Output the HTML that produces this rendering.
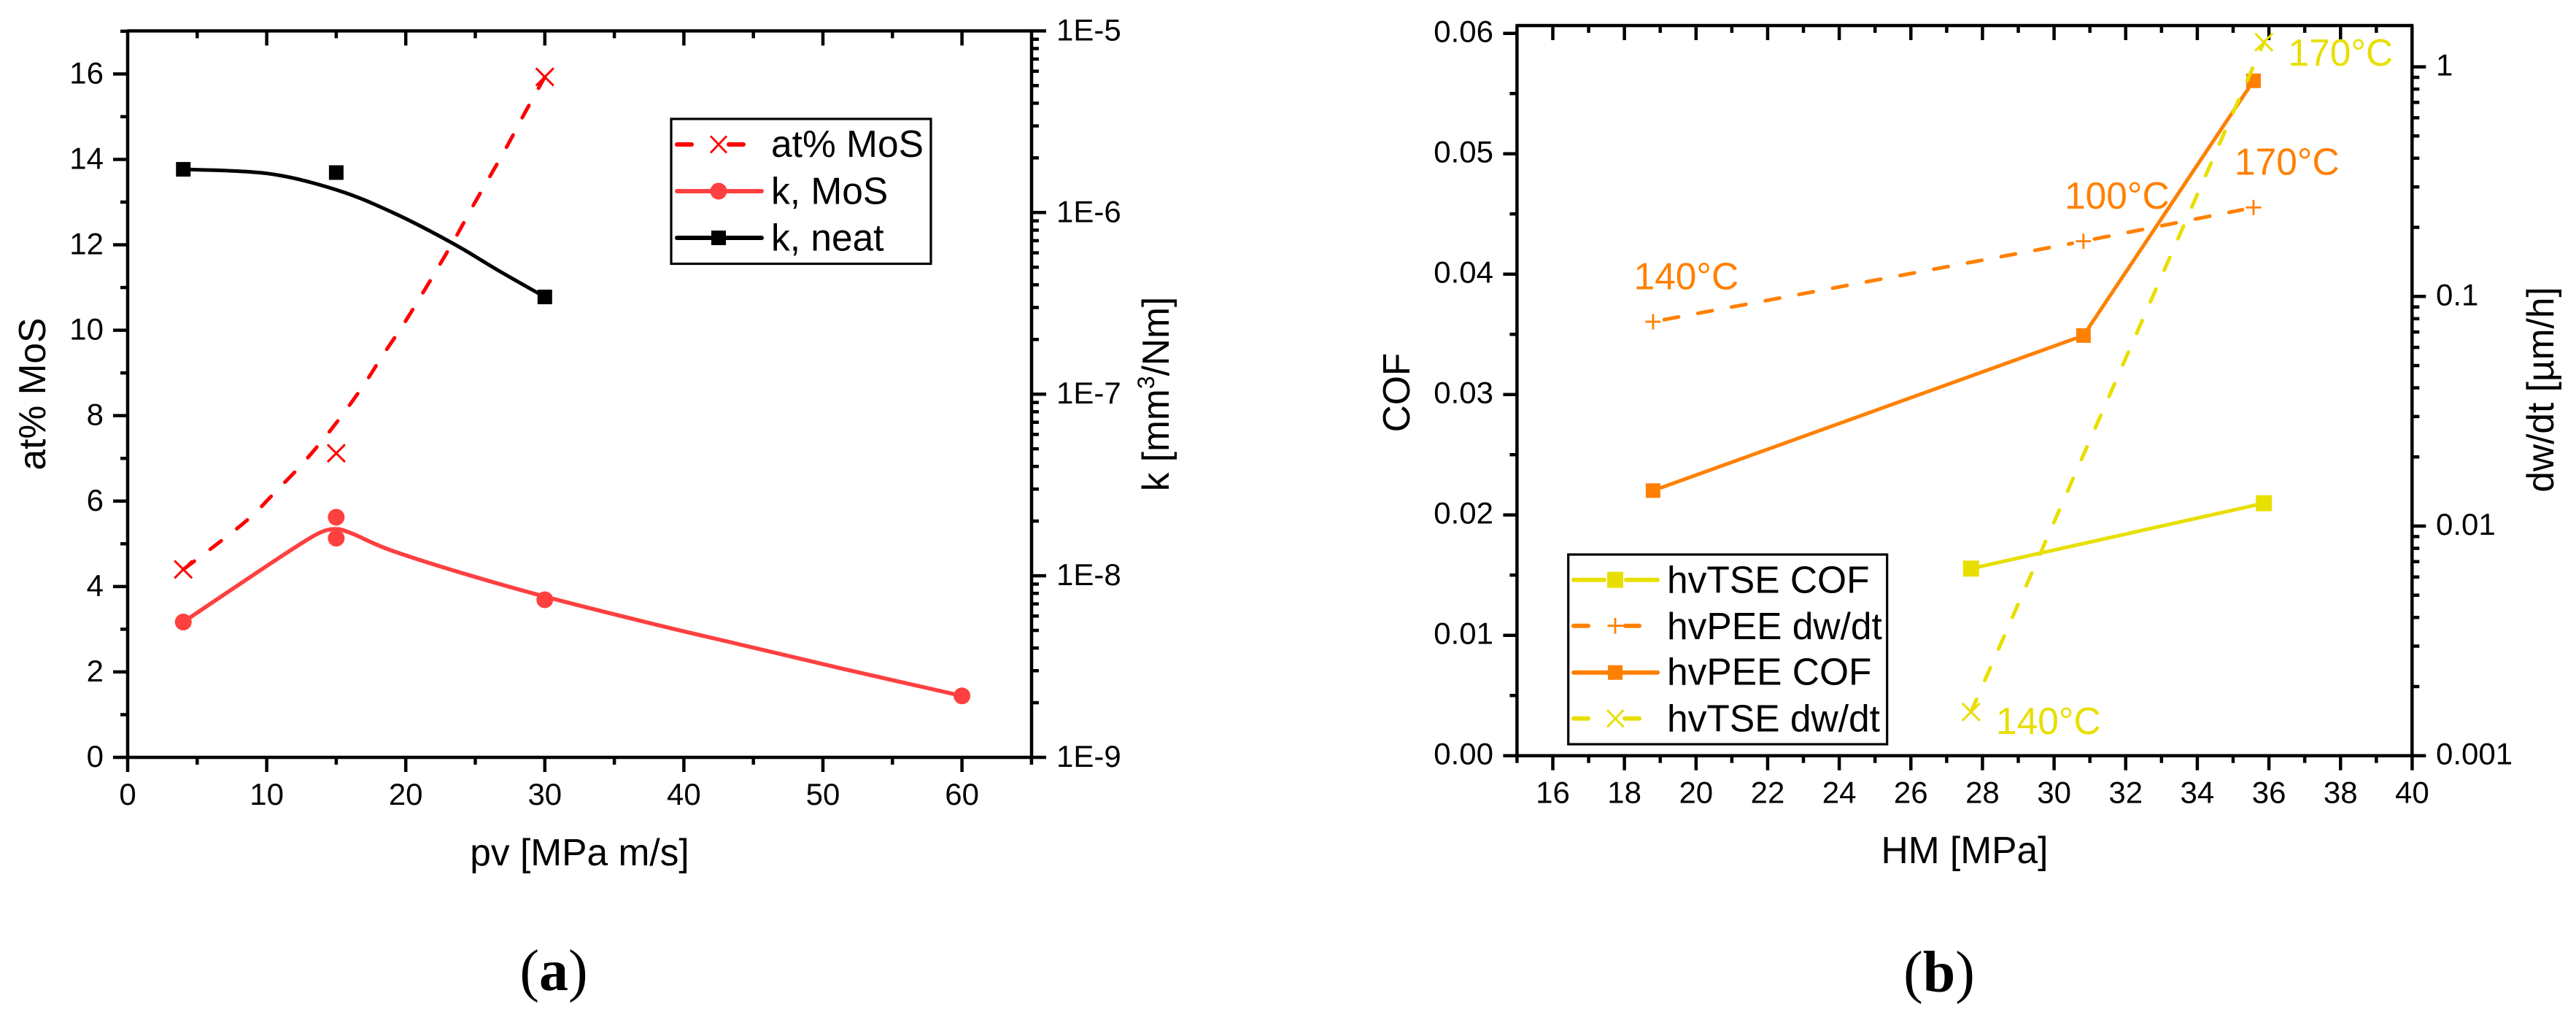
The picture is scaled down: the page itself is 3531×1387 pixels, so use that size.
<!DOCTYPE html>
<html lang="en">
<head>
<meta charset="utf-8">
<title>Wear and friction charts</title>
<style>
html,body{margin:0;padding:0;background:#fff;}
svg{display:block;}
text{font-family:"Liberation Sans",sans-serif;fill:#000;}
.tick-label{font-size:42px;}
.title{font-size:51.500px;}
.leg{font-size:51.500px;}
.cap{font-family:"Liberation Serif",serif;font-size:80px;}
</style>
</head>
<body>
<svg id="chart" xmlns="http://www.w3.org/2000/svg" width="3531" height="1387" viewBox="0 0 3531 1387">
  <rect x="0" y="0" width="3531" height="1387" fill="#fff"/>

  <!-- static titles -->
  <text class="title" x="794.500" y="1186" text-anchor="middle">pv [MPa m/s]</text>
  <text class="title" transform="translate(62,540) rotate(-90)" text-anchor="middle">at% MoS</text>
  <text class="title" transform="translate(1602,540) rotate(-90)" text-anchor="middle">k [mm<tspan font-size="32" dy="-20">3</tspan><tspan dy="20">/Nm]</tspan></text>
  <text class="title" x="2693" y="1183" text-anchor="middle">HM [MPa]</text>
  <text class="title" transform="translate(1932,538) rotate(-90)" text-anchor="middle">COF</text>
  <text class="title" transform="translate(3500,534) rotate(-90)" text-anchor="middle">dw/dt [µm/h]</text>

  <text class="cap" x="759" y="1357" text-anchor="middle">(<tspan font-weight="bold">a</tspan>)</text>
  <text class="cap" x="2658" y="1359" text-anchor="middle">(<tspan font-weight="bold">b</tspan>)</text>

  <g id="marksA"></g>
  <g id="marksB"></g>

  <!-- legend a -->
  <g>
    <rect x="920" y="163" width="356" height="198.500" fill="#fff" stroke="#000" stroke-width="3.200"/>
    <g>
      <line x1="928" y1="198" x2="948" y2="198" stroke="#ff0000" stroke-width="6" stroke-linecap="round"/>
      <line x1="999" y1="198" x2="1019" y2="198" stroke="#ff0000" stroke-width="6" stroke-linecap="round"/>
      <path d="M974 186.500 L996 209.500 M996 186.500 L974 209.500" stroke="#ff0000" stroke-width="2.800" fill="none"/>
      <text class="leg" x="1057" y="215">at% MoS</text>
    </g>
    <g>
      <line x1="928" y1="262" x2="1044" y2="262" stroke="#ff4040" stroke-width="6" stroke-linecap="round"/>
      <circle cx="985" cy="262" r="11.500" fill="#ff4040"/>
      <text class="leg" x="1057" y="279.500">k, MoS</text>
    </g>
    <g>
      <line x1="928" y1="326" x2="1044" y2="326" stroke="#000" stroke-width="6" stroke-linecap="round"/>
      <rect x="975" y="316" width="20" height="20" fill="#000"/>
      <text class="leg" x="1057" y="343.500">k, neat</text>
    </g>
  </g>

  <!-- legend b -->
  <g>
    <rect x="2149.700" y="760" width="437" height="260" fill="#fff" stroke="#000" stroke-width="3.200"/>
    <g>
      <line x1="2157" y1="794.700" x2="2199" y2="794.700" stroke="#e8df00" stroke-width="6" stroke-linecap="round"/>
      <line x1="2229" y1="794.700" x2="2272" y2="794.700" stroke="#e8df00" stroke-width="6" stroke-linecap="round"/>
      <rect x="2203" y="783.700" width="22" height="22" fill="#e8df00"/>
      <text class="leg" x="2285" y="812.700">hvTSE COF</text>
    </g>
    <g>
      <line x1="2157" y1="857.700" x2="2177" y2="857.700" stroke="#ff8000" stroke-width="6" stroke-linecap="round"/>
      <line x1="2228" y1="857.700" x2="2247" y2="857.700" stroke="#ff8000" stroke-width="6" stroke-linecap="round"/>
      <path d="M2203.500 857.700 H2225 M2214 847 V868.500" stroke="#ff8000" stroke-width="2.800" fill="none"/>
      <text class="leg" x="2285" y="876">hvPEE dw/dt</text>
    </g>
    <g>
      <line x1="2157" y1="921.700" x2="2272" y2="921.700" stroke="#ff8000" stroke-width="6" stroke-linecap="round"/>
      <rect x="2204" y="911.700" width="20" height="20" fill="#ff8000"/>
      <text class="leg" x="2285" y="938.700">hvPEE COF</text>
    </g>
    <g>
      <line x1="2157" y1="984.700" x2="2177" y2="984.700" stroke="#e8df00" stroke-width="6" stroke-linecap="round"/>
      <line x1="2227" y1="984.700" x2="2247" y2="984.700" stroke="#e8df00" stroke-width="6" stroke-linecap="round"/>
      <path d="M2203 973 L2225.500 996.500 M2225.500 973 L2203 996.500" stroke="#e8df00" stroke-width="3" fill="none"/>
      <text class="leg" x="2285" y="1002.700">hvTSE dw/dt</text>
    </g>
  </g>

  <!-- temperature annotations -->
  <text class="title" x="2239.500" y="396.500" style="fill:#ff8000">140°C</text>
  <text class="title" x="2830" y="286" style="fill:#ff8000">100°C</text>
  <text class="title" x="3063" y="239.500" style="fill:#ff8000">170°C</text>
  <text class="title" x="3136.500" y="90" style="fill:#e8df00">170°C</text>
  <text class="title" x="2736" y="1006" style="fill:#e8df00">140°C</text>
</svg>

<script>
// ---------- Panel (a) axis data ----------
const aXMajor = [0, 10, 20, 30, 40, 50, 60];
const aXMinor = [5, 15, 25, 35, 45, 55, 65];
const aXLabels = ['0', '10', '20', '30', '40', '50', '60'];
const aLeftMajor = [0, 2, 4, 6, 8, 10, 12, 14, 16];
const aLeftMinor = [1, 3, 5, 7, 9, 11, 13, 15, 17];
const aLeftLabels = ['0', '2', '4', '6', '8', '10', '12', '14', '16'];
const aRightMajor = [1e-9, 1e-8, 1e-7, 1e-6, 1e-5];
const aRightLabels = ['1E-9', '1E-8', '1E-7', '1E-6', '1E-5'];

// ---------- Panel (a) series ----------
const atPv = [4, 15, 30];
const atMoS = [4.4, 7.12, 15.93];
const atFitPv = [4, 6.93, 8.89, 10.55, 12.33, 14.0, 15.51, 17.02, 18.36, 19.78, 21.09, 22.38, 23.65, 24.85, 26.05, 27.32, 28.53, 30];
const atFitVal = [4.4, 5.12, 5.64, 6.19, 6.79, 7.42, 8.05, 8.74, 9.42, 10.11, 10.8, 11.5, 12.21, 12.92, 13.6, 14.33, 15.07, 15.93];

const kMoSPv = [4, 15, 15, 30, 60];
const kMoS = [5.56e-9, 1.61e-8, 2.10e-8, 7.38e-9, 2.18e-9];
const kMoSFitPv = [4, 8.89, 11.9, 13.71, 14.91, 16.12, 18.83, 23.95, 29.97, 38.04, 44.06, 50.99, 60];
const kMoSFitVal = [5.56e-9, 9.93e-9, 1.41e-8, 1.71e-8, 1.81e-8, 1.71e-8, 1.39e-8, 1.04e-8, 7.69e-9, 5.37e-9, 4.18e-9, 3.13e-9, 2.18e-9];

const kNeatPv = [4, 15, 30];
const kNeat = [1.73e-6, 1.66e-6, 3.43e-7];
const kNeatFitPv = [4, 10.07, 15.06, 19.15, 23.35, 26.65, 30];
const kNeatFitVal = [1.73e-6, 1.64e-6, 1.33e-6, 9.93e-7, 6.79e-7, 4.80e-7, 3.43e-7];

// ---------- Panel (b) axis data ----------
const bXMajor = [16, 18, 20, 22, 24, 26, 28, 30, 32, 34, 36, 38, 40];
const bXMinor = [15, 17, 19, 21, 23, 25, 27, 29, 31, 33, 35, 37, 39];
const bXLabels = ['16', '18', '20', '22', '24', '26', '28', '30', '32', '34', '36', '38', '40'];
const bLeftMajor = [0, 0.01, 0.02, 0.03, 0.04, 0.05, 0.06];
const bLeftMinor = [0.005, 0.015, 0.025, 0.035, 0.045, 0.055];
const bLeftLabels = ['0.00', '0.01', '0.02', '0.03', '0.04', '0.05', '0.06'];
const bRightMajor = [0.001, 0.01, 0.1, 1];
const bRightLabels = ['0.001', '0.01', '0.1', '1'];
const logMinorFactors = [2, 3, 4, 5, 6, 7, 8, 9];

// ---------- Panel (b) series ----------
const hvTseCofHM = [27.68, 35.86];
const hvTseCof = [0.01554, 0.02097];
const hvPeeCofHM = [18.8, 30.82, 35.57];
const hvPeeCof = [0.02202, 0.0349, 0.05606];
const hvPeeRateHM = [18.8, 30.82, 35.57];
const hvPeeRate = [0.0776, 0.174, 0.244];
const hvTseRateHM = [27.68, 35.86];
const hvTseRate = [0.00155, 1.28];

// ---------- Axis functions ----------
const A = {left: 175, right: 1414, top: 42.4, bottom: 1038};
const B = {left: 2079.4, right: 3306.3, top: 35, bottom: 1035.7};
function xA(v) { return A.left + v * 19.06; }
function yAL(v) { return A.bottom - v * 58.54; }
function yAR(v) { return A.bottom - (Math.log10(v) + 9) * 248.9; }
function xB(v) { return B.left + (v - 15) * 49.08; }
function yBL(v) { return B.bottom - v * 16500; }
function yBR(v) { return B.bottom - (Math.log10(v) + 3) * 314.7; }

// ---------- Drawing helpers ----------
const NS = 'http://www.w3.org/2000/svg';
const gA = document.getElementById('marksA');
const gB = document.getElementById('marksB');
const BLACK = '#000000', RED = '#ff0000', SALMON = '#ff4040', ORANGE = '#ff8000', YELLOW = '#e8df00';

function mk(parent, tag, attrs) {
  const el = document.createElementNS(NS, tag);
  for (const k in attrs) el.setAttribute(k, attrs[k]);
  parent.appendChild(el);
  return el;
}
function line(parent, x1, y1, x2, y2, w, color) {
  return mk(parent, 'line', {x1: x1, y1: y1, x2: x2, y2: y2, stroke: color || BLACK, 'stroke-width': w});
}
function label(parent, x, y, txt, anchor) {
  const el = mk(parent, 'text', {x: x, y: y, 'text-anchor': anchor, 'class': 'tick-label'});
  el.textContent = txt;
  return el;
}
function square(parent, cx, cy, s, color) {
  return mk(parent, 'rect', {x: cx - s / 2, y: cy - s / 2, width: s, height: s, fill: color});
}
function circle(parent, cx, cy, r, color) {
  return mk(parent, 'circle', {cx: cx, cy: cy, r: r, fill: color});
}
function cross(parent, cx, cy, r, color) {
  const d = 'M' + (cx - r) + ' ' + (cy - r) + 'L' + (cx + r) + ' ' + (cy + r) + 'M' + (cx + r) + ' ' + (cy - r) + 'L' + (cx - r) + ' ' + (cy + r);
  return mk(parent, 'path', {d: d, stroke: color, 'stroke-width': 3, fill: 'none'});
}
function plus(parent, cx, cy, r, color) {
  const d = 'M' + (cx - r) + ' ' + cy + 'H' + (cx + r) + 'M' + cx + ' ' + (cy - r) + 'V' + (cy + r);
  return mk(parent, 'path', {d: d, stroke: color, 'stroke-width': 2.8, fill: 'none'});
}
function smoothPath(pts) {
  let d = 'M' + pts[0][0] + ' ' + pts[0][1];
  for (let i = 0; i < pts.length - 1; i++) {
    const p0 = pts[Math.max(0, i - 1)], p1 = pts[i], p2 = pts[i + 1], p3 = pts[Math.min(pts.length - 1, i + 2)];
    const c1x = p1[0] + (p2[0] - p0[0]) / 6, c1y = p1[1] + (p2[1] - p0[1]) / 6;
    const c2x = p2[0] - (p3[0] - p1[0]) / 6, c2y = p2[1] - (p3[1] - p1[1]) / 6;
    d += 'C' + c1x + ' ' + c1y + ' ' + c2x + ' ' + c2y + ' ' + p2[0] + ' ' + p2[1];
  }
  return d;
}
function curve(parent, xs, ys, fx, fy, color, w, dash) {
  const pts = xs.map(function (v, i) { return [fx(v), fy(ys[i])]; });
  const attrs = {d: smoothPath(pts), fill: 'none', stroke: color, 'stroke-width': w, 'stroke-linejoin': 'round', 'stroke-linecap': 'round'};
  if (dash) { attrs['stroke-dasharray'] = dash; }
  return mk(parent, 'path', attrs);
}
function segment(parent, x1, y1, x2, y2, gap1, gap2, color, w, dash) {
  const len = Math.hypot(x2 - x1, y2 - y1), ux = (x2 - x1) / len, uy = (y2 - y1) / len;
  const el = line(parent, x1 + ux * gap1, y1 + uy * gap1, x2 - ux * gap2, y2 - uy * gap2, w, color);
  el.setAttribute('stroke-linecap', 'round');
  if (dash) el.setAttribute('stroke-dasharray', dash);
  return el;
}

const AXIS_W = 4.5, TICK_W = 4.5;

// ---------- Panel (a) axes ----------
let el;
for (let i = 0; i < aXMajor.length; i++) {
  el = line(gA, xA(aXMajor[i]), A.bottom, xA(aXMajor[i]), A.bottom + 20, TICK_W);
  
  
  if (i > 0) {
    el = line(gA, xA(aXMajor[i]), A.top, xA(aXMajor[i]), A.top + 20, TICK_W);
    
    
  }
  el = label(gA, xA(aXMajor[i]), 1103, aXLabels[i], 'middle');
  
  
}
for (let i = 0; i < aXMinor.length; i++) {
  el = line(gA, xA(aXMinor[i]), A.bottom, xA(aXMinor[i]), A.bottom + 10, TICK_W);
  
  
  if (aXMinor[i] < 65) {
    el = line(gA, xA(aXMinor[i]), A.top, xA(aXMinor[i]), A.top + 10, TICK_W);
    
    
  }
}
for (let i = 0; i < aLeftMajor.length; i++) {
  el = line(gA, A.left, yAL(aLeftMajor[i]), A.left - 20, yAL(aLeftMajor[i]), TICK_W);
  
  
  el = label(gA, 142, yAL(aLeftMajor[i]) + 13, aLeftLabels[i], 'end');
  
  
}
for (let i = 0; i < aLeftMinor.length; i++) {
  el = line(gA, A.left, yAL(aLeftMinor[i]), A.left - 10, yAL(aLeftMinor[i]), TICK_W);
  
  
}
for (let i = 0; i < aRightMajor.length; i++) {
  el = line(gA, A.right, yAR(aRightMajor[i]), A.right + 20, yAR(aRightMajor[i]), TICK_W);
  
  
  el = label(gA, 1448, yAR(aRightMajor[i]) + 13, aRightLabels[i], 'start');
  
  
  if (i < aRightMajor.length - 1) {
    for (let j = 0; j < logMinorFactors.length; j++) {
      const ym = yAR(aRightMajor[i] * logMinorFactors[j]);
      el = line(gA, A.right, ym, A.right + 10, ym, TICK_W);
      
      
    }
  }
}
el = line(gA, A.left, A.top, A.right + 2, A.top, AXIS_W);


el = line(gA, A.left, A.bottom, A.right + 2, A.bottom, AXIS_W);


el = line(gA, A.left, A.top - 2, A.left, A.bottom + 2, AXIS_W);


el = line(gA, A.right, A.top - 2, A.right, A.bottom + 2, AXIS_W);



// ---------- Panel (a) series ----------
el = curve(gA, kNeatFitPv, kNeatFitVal, xA, yAR, BLACK, 5);


for (let i = 0; i < kNeatPv.length; i++) {
  el = square(gA, xA(kNeatPv[i]), yAR(kNeat[i]), 20, BLACK);
  
  
}
el = curve(gA, kMoSFitPv, kMoSFitVal, xA, yAR, SALMON, 5.5);


for (let i = 0; i < kMoSPv.length; i++) {
  el = circle(gA, xA(kMoSPv[i]), yAR(kMoS[i]), 11.5, SALMON);
  
  
}
el = curve(gA, atFitPv, atFitVal, xA, yAL, RED, 5, '19 27');


for (let i = 0; i < atPv.length; i++) {
  el = cross(gA, xA(atPv[i]), yAL(atMoS[i]), 12, RED);
  
  
}

// ---------- Panel (b) axes ----------
for (let i = 0; i < bXMajor.length; i++) {
  el = line(gB, xB(bXMajor[i]), B.bottom, xB(bXMajor[i]), B.bottom + 20, TICK_W);
  
  
  if (bXMajor[i] < 40) {
    el = line(gB, xB(bXMajor[i]), B.top, xB(bXMajor[i]), B.top + 20, TICK_W);
    
    
  }
  el = label(gB, xB(bXMajor[i]), 1100.5, bXLabels[i], 'middle');
  
  
}
for (let i = 0; i < bXMinor.length; i++) {
  el = line(gB, xB(bXMinor[i]), B.bottom, xB(bXMinor[i]), B.bottom + 10, TICK_W);
  
  
  if (bXMinor[i] > 15) {
    el = line(gB, xB(bXMinor[i]), B.top, xB(bXMinor[i]), B.top + 10, TICK_W);
    
    
  }
}
for (let i = 0; i < bLeftMajor.length; i++) {
  el = line(gB, B.left, yBL(bLeftMajor[i]), B.left - 19, yBL(bLeftMajor[i]), TICK_W);
  
  
  el = label(gB, 2047, yBL(bLeftMajor[i]) + 12, bLeftLabels[i], 'end');
  
  
}
for (let i = 0; i < bLeftMinor.length; i++) {
  el = line(gB, B.left, yBL(bLeftMinor[i]), B.left - 10, yBL(bLeftMinor[i]), TICK_W);
  
  
}
for (let i = 0; i < bRightMajor.length; i++) {
  el = line(gB, B.right, yBR(bRightMajor[i]), B.right + 19, yBR(bRightMajor[i]), TICK_W);
  
  
  el = label(gB, 3339, yBR(bRightMajor[i]) + 12, bRightLabels[i], 'start');
  
  
  if (i < bRightMajor.length - 1) {
    for (let j = 0; j < logMinorFactors.length; j++) {
      const ym = yBR(bRightMajor[i] * logMinorFactors[j]);
      el = line(gB, B.right, ym, B.right + 10, ym, TICK_W);
      
      
    }
  }
}
el = line(gB, B.left - 2, B.top, B.right + 2, B.top, AXIS_W);


el = line(gB, B.left, B.bottom, B.right, B.bottom, AXIS_W);


el = line(gB, B.left, B.top, B.left, B.bottom + 2, AXIS_W);


el = line(gB, B.right, B.top, B.right, B.bottom + 2, AXIS_W);



// ---------- Panel (b) series ----------
for (let i = 0; i < hvTseCofHM.length - 1; i++) {
  el = segment(gB, xB(hvTseCofHM[i]), yBL(hvTseCof[i]), xB(hvTseCofHM[i + 1]), yBL(hvTseCof[i + 1]), 0, 0, YELLOW, 5);
  
  
}
for (let i = 0; i < hvTseCofHM.length; i++) {
  el = square(gB, xB(hvTseCofHM[i]), yBL(hvTseCof[i]), 22, YELLOW);
  
  
}
for (let i = 0; i < hvPeeRateHM.length - 1; i++) {
  el = segment(gB, xB(hvPeeRateHM[i]), yBR(hvPeeRate[i]), xB(hvPeeRateHM[i + 1]), yBR(hvPeeRate[i + 1]), 15.5, 15.5, ORANGE, 5, '20 27');
  
  
}
for (let i = 0; i < hvPeeRateHM.length; i++) {
  el = plus(gB, xB(hvPeeRateHM[i]), yBR(hvPeeRate[i]), 10.5, ORANGE);
  
  
}
for (let i = 0; i < hvPeeCofHM.length - 1; i++) {
  el = segment(gB, xB(hvPeeCofHM[i]), yBL(hvPeeCof[i]), xB(hvPeeCofHM[i + 1]), yBL(hvPeeCof[i + 1]), 12, 12, ORANGE, 5);
  
  
}
for (let i = 0; i < hvPeeCofHM.length; i++) {
  el = square(gB, xB(hvPeeCofHM[i]), yBL(hvPeeCof[i]), 20, ORANGE);
  
  
}
for (let i = 0; i < hvTseRateHM.length - 1; i++) {
  el = segment(gB, xB(hvTseRateHM[i]), yBR(hvTseRate[i]), xB(hvTseRateHM[i + 1]), yBR(hvTseRate[i + 1]), 0, 0, YELLOW, 5, '19 28.2');
  
  
}
for (let i = 0; i < hvTseRateHM.length; i++) {
  el = cross(gB, xB(hvTseRateHM[i]), yBR(hvTseRate[i]), 12, YELLOW);
  
  
}
</script>
</body>
</html>
